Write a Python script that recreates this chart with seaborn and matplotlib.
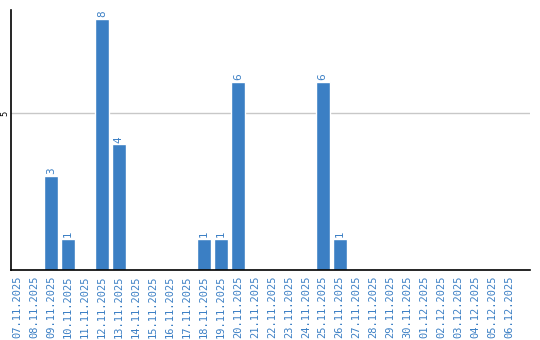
import matplotlib
matplotlib.use("Agg")
import matplotlib.pyplot as plt
import seaborn as sns
import pandas as pd

dates = ["07.11.2025", "08.11.2025", "09.11.2025", "10.11.2025", "11.11.2025",
         "12.11.2025", "13.11.2025", "14.11.2025", "15.11.2025", "16.11.2025",
         "17.11.2025", "18.11.2025", "19.11.2025", "20.11.2025", "21.11.2025",
         "22.11.2025", "23.11.2025", "24.11.2025", "25.11.2025", "26.11.2025",
         "27.11.2025", "28.11.2025", "29.11.2025", "30.11.2025", "01.12.2025",
         "02.12.2025", "03.12.2025", "04.12.2025", "05.12.2025", "06.12.2025"]
counts = [0, 0, 3, 1, 0, 8, 4, 0, 0, 0, 0, 1, 1, 6, 0, 0, 0, 0, 6, 1,
          0, 0, 0, 0, 0, 0, 0, 0, 0, 0]
yticks = [5]

blue = "#3b7fc4"
df = pd.DataFrame({"date": dates, "count": counts})

sns.set_style("white")
fig = plt.figure(figsize=(5.4, 3.4), dpi=100)
ax = fig.add_axes([11/540, 70/340, 519/540, 260/340])
sns.barplot(data=df, x="date", y="count", color=blue, saturation=1, width=0.82, ax=ax)

ax.set_ylim(0, 8.28)
ax.set_xlim(-0.35, 30.2)
ax.set_yticks(yticks)
ax.set_yticklabels([str(v) for v in yticks], rotation=90, va="center", fontsize=6, color="black")
ax.yaxis.grid(True, color="#c8c8c8", linewidth=1)
ax.set_axisbelow(True)
ax.tick_params(axis="y", length=0, pad=1.5)
ax.tick_params(axis="x", length=0, pad=4)
ax.set_xticks(range(len(dates)))
ax.set_xticklabels(dates, rotation=90, fontsize=7.5, color=blue, family="DejaVu Sans Mono")
ax.set_xlabel("")
ax.set_ylabel("")
for s in ["top", "right"]:
    ax.spines[s].set_visible(False)
for s in ["left", "bottom"]:
    ax.spines[s].set_color("black")
    ax.spines[s].set_linewidth(1.2)

for i, v in enumerate(counts):
    if v > 0:
        ax.text(i, v + 0.05, str(v), rotation=90, ha="center", va="bottom",
                fontsize=7.5, color=blue)

fig.savefig("out.png", dpi=100)
